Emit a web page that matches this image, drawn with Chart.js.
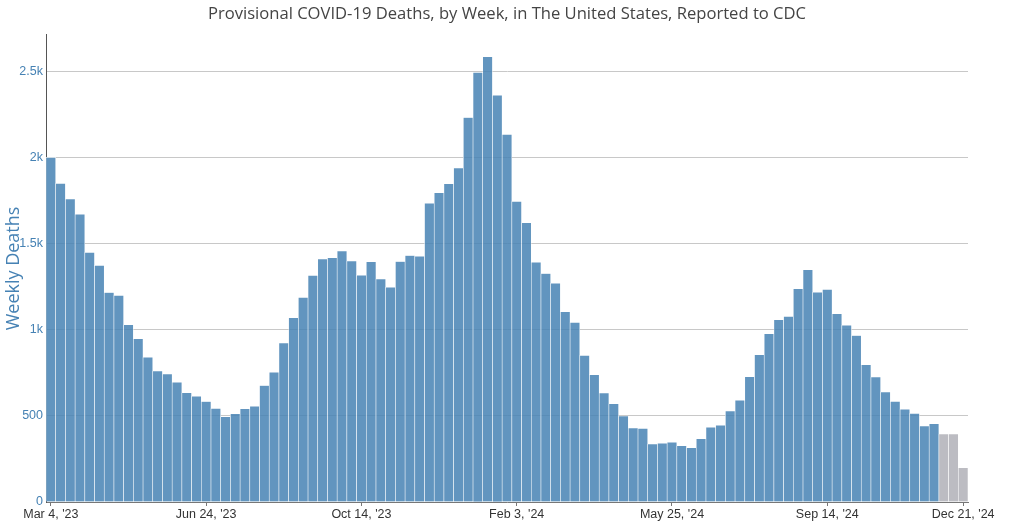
<!DOCTYPE html>
<html>
<head>
<meta charset="utf-8">
<script src="https://cdn.jsdelivr.net/npm/chart.js@4.4.1/dist/chart.umd.min.js"></script>
<style>
  html, body { margin: 0; padding: 0; background: #ffffff; }
  #wrap { width: 1024px; height: 522px; position: relative; }
</style>
</head>
<body>
<div id="wrap"><canvas id="c"></canvas></div>
<script>
const chartTitle = "Provisional COVID-19 Deaths, by Week, in The United States, Reported to CDC";
const yAxisTitle = "Weekly Deaths";

const weekLabels = [
  "Mar 4, '23", "Mar 11, '23", "Mar 18, '23", "Mar 25, '23",
  "Apr 1, '23", "Apr 8, '23", "Apr 15, '23", "Apr 22, '23", "Apr 29, '23",
  "May 6, '23", "May 13, '23", "May 20, '23", "May 27, '23",
  "Jun 3, '23", "Jun 10, '23", "Jun 17, '23", "Jun 24, '23",
  "Jul 1, '23", "Jul 8, '23", "Jul 15, '23", "Jul 22, '23", "Jul 29, '23",
  "Aug 5, '23", "Aug 12, '23", "Aug 19, '23", "Aug 26, '23",
  "Sep 2, '23", "Sep 9, '23", "Sep 16, '23", "Sep 23, '23", "Sep 30, '23",
  "Oct 7, '23", "Oct 14, '23", "Oct 21, '23", "Oct 28, '23",
  "Nov 4, '23", "Nov 11, '23", "Nov 18, '23", "Nov 25, '23",
  "Dec 2, '23", "Dec 9, '23", "Dec 16, '23", "Dec 23, '23", "Dec 30, '23",
  "Jan 6, '24", "Jan 13, '24", "Jan 20, '24", "Jan 27, '24",
  "Feb 3, '24", "Feb 10, '24", "Feb 17, '24", "Feb 24, '24",
  "Mar 2, '24", "Mar 9, '24", "Mar 16, '24", "Mar 23, '24", "Mar 30, '24",
  "Apr 6, '24", "Apr 13, '24", "Apr 20, '24", "Apr 27, '24",
  "May 4, '24", "May 11, '24", "May 18, '24", "May 25, '24",
  "Jun 1, '24", "Jun 8, '24", "Jun 15, '24", "Jun 22, '24", "Jun 29, '24",
  "Jul 6, '24", "Jul 13, '24", "Jul 20, '24", "Jul 27, '24",
  "Aug 3, '24", "Aug 10, '24", "Aug 17, '24", "Aug 24, '24", "Aug 31, '24",
  "Sep 7, '24", "Sep 14, '24", "Sep 21, '24", "Sep 28, '24",
  "Oct 5, '24", "Oct 12, '24", "Oct 19, '24", "Oct 26, '24",
  "Nov 2, '24", "Nov 9, '24", "Nov 16, '24", "Nov 23, '24", "Nov 30, '24",
  "Dec 7, '24", "Dec 14, '24", "Dec 21, '24"
];

const weeklyDeaths = [
  2003, 1852, 1762, 1672, 1451, 1375, 1218, 1201, 1030, 949,
  841, 761, 744, 696, 635, 615, 584, 544, 496, 513,
  542, 556, 677, 755, 925, 1071, 1189, 1317, 1413, 1420,
  1459, 1401, 1318, 1396, 1297, 1249, 1398, 1433, 1428, 1736,
  1797, 1850, 1941, 2235, 2497, 2588, 2365, 2137, 1747, 1623,
  1393, 1328, 1271, 1106, 1044, 852, 740, 633, 571, 500,
  430, 428, 337, 341, 347, 327, 316, 368, 434, 446,
  529, 591, 728, 856, 978, 1059, 1079, 1240, 1350, 1220,
  1236, 1094, 1027, 968, 798, 726, 639, 585, 539, 515,
  442, 455, 395, 395, 199
];

// Most recent weeks, shown in grey (data still incomplete)
const provisionalWeeks = ["Dec 7, '24", "Dec 14, '24", "Dec 21, '24"];

const tickWeeks = ["Mar 4, '23", "Jun 24, '23", "Oct 14, '23", "Feb 3, '24", "May 25, '24", "Sep 14, '24", "Dec 21, '24"];
const yTickValues = [0, 500, 1000, 1500, 2000, 2500];
const yTickLabels = ["0", "500", "1k", "1.5k", "2k", "2.5k"];

const blueColor = 'rgba(70,130,180,0.85)';
const greyColor = 'rgba(160,160,168,0.7)';

new Chart(document.getElementById('c'), {
  type: 'bar',
  data: {
    labels: weekLabels,
    datasets: [{
      label: yAxisTitle,
      data: weeklyDeaths,
      backgroundColor: weekLabels.map(l => provisionalWeeks.includes(l) ? greyColor : blueColor),
      borderColor: 'rgba(255,255,255,0.8)',
      borderWidth: 0.6,
      barPercentage: 1,
      categoryPercentage: 1
    }]
  },
  options: {
    responsive: true,
    maintainAspectRatio: false,
    animation: false,
    layout: { padding: { left: 0, right: 10, top: 0, bottom: 0 } },
    plugins: {
      legend: { display: false },
      tooltip: { enabled: false },
      title: {
        display: true,
        text: chartTitle,
        color: '#444',
        font: { family: '"Open Sans", sans-serif', size: 16.6, weight: 'normal', lineHeight: 1.2 },
        padding: { top: 4, bottom: 11 }
      }
    },
    scales: {
      x: {
        offset: true,
        grid: {
          display: true,
          offset: false,
          drawOnChartArea: false,
          drawTicks: true,
          tickLength: 4,
          color: ctx => tickWeeks.includes(weekLabels[ctx.index]) ? '#777' : 'rgba(0,0,0,0)'
        },
        border: { display: true, color: '#777', width: 1 },
        ticks: {
          autoSkip: false,
          maxRotation: 0,
          minRotation: 0,
          padding: 1,
          color: '#333',
          font: { family: '"Liberation Sans", Arial, sans-serif', size: 12.5 },
          callback: function (v, i) {
            const l = weekLabels[i];
            return tickWeeks.includes(l) ? l : '';
          }
        },
        afterFit: s => { s.height = 20; }
      },
      y: {
        min: 0,
        max: 2715,
        afterBuildTicks: s => { s.ticks = yTickValues.map(v => ({ value: v })); },
        ticks: {
          autoSkip: false,
          color: '#4682b4',
          padding: 3,
          font: { family: '"Liberation Sans", Arial, sans-serif', size: 12.5 },
          callback: v => yTickLabels[yTickValues.indexOf(v)]
        },
        grid: { color: '#c8c8c8', drawTicks: false, lineWidth: 1 },
        border: { display: true, color: '#555', width: 1 },
        title: {
          display: true,
          text: yAxisTitle,
          color: '#4682b4',
          font: { family: '"Open Sans", sans-serif', size: 18, weight: 'normal' },
          padding: { top: 3, bottom: 0 }
        },
        afterFit: s => { s.width = 46; }
      },
      rightSpace: {
        type: 'linear',
        position: 'right',
        display: true,
        grid: { display: false, drawTicks: false },
        border: { display: false },
        ticks: { display: false },
        afterFit: s => { s.width = 46; }
      }
    }
  }
});
</script>
</body>
</html>
